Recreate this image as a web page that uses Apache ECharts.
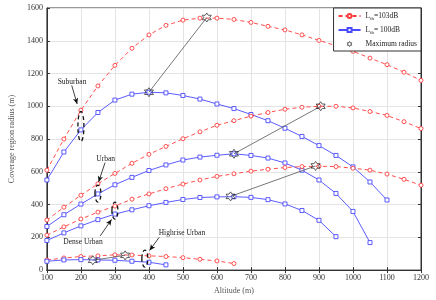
<!DOCTYPE html>
<html><head><meta charset="utf-8">
<script src="https://cdn.jsdelivr.net/npm/echarts@6/dist/echarts.min.js"></script>
<style>html,body{margin:0;padding:0;background:#fff}#c{width:436px;height:300px}</style>
</head><body><div id="c"></div>
<script>
const altitudes = [100,150,200,250,300,350,400,450,500,550,600,650,700,750,800,850,900,950,1000,1050,1100,1150,1200];
const suburban103 = [610,800,976,1124,1250,1354,1436,1494,1526,1538,1538,1530,1512,1488,1466,1436,1402,1370,1336,1294,1254,1208,1158];
const suburban100 = [550,721,856,962,1038,1074,1086,1082,1066,1044,1014,986,950,912,866,816,760,700,630,538,428];
const urban103 = [306,384,457,527,590,652,707,755,802,844,884,912,940,962,982,994,1000,1000,990,968,944,906,864];
const urban100 = [266,338,403,465,521,566,608,642,672,690,701,710,700,684,654,610,550,468,358,168];
const dense103 = [213,264,312,354,391,433,465,497,525,550,572,588,604,616,626,632,634,632,622,610,586,554,518];
const dense100 = [181,227,270,308,342,368,393,413,431,443,447,448,444,430,404,364,304,204];
const highrise103 = [62,74,83,87,93,92,87,83,76,66,56,40];
const highrise100 = [54,62,64,62,60,54,48,32];
// maximum radius points: pairs [100dB, 103dB]
const maxPairs = [
  [[400,1086],[570,1542]],
  [[650,710],[905,1000]],
  [[640,450],[890,636]],
  [[235,60],[330,90]]
];
const envLabels = ['Suburban','Urban','Dense Urban','Highrise Urban'];
const labelPos = [[174,1151],[273,680],[206,170],[497,224]];
const arrowFrom = [[173,1127],[271,656],[257,209],[430,200]];
const arrowTo = [[189,1014],[252,538],[290,309],[402,120]];
const ellipseCenters = [[200,877],[250,467],[300,363],[388,70]];

const RED = '#ff3b3b', BLUE = '#4a4aff', FONT = 'Liberation Serif';
const starPath = 'path://M0,-10 L2.9,-5 L8.66,-5 L5.8,0 L8.66,5 L2.9,5 L0,10 L-2.9,5 L-8.66,5 L-5.8,0 L-8.66,-5 L-2.9,-5 Z';
const zip = v => v.map((y,i)=>[altitudes[i],y]);
function redSeries(d){return {name:'L103',type:'line',data:zip(d),symbol:'circle',symbolSize:4,showSymbol:true,
  lineStyle:{color:RED,width:0.9,type:[4,3]},itemStyle:{color:'#fff',borderColor:RED,borderWidth:0.9},z:3,animation:false};}
function blueSeries(d){return {name:'L100',type:'line',data:zip(d),symbol:'rect',symbolSize:4,
  lineStyle:{color:BLUE,width:0.9},itemStyle:{color:'#fff',borderColor:BLUE,borderWidth:0.9},z:3,animation:false};}
const starData = []; maxPairs.forEach(p=>{starData.push(p[0]);starData.push(p[1]);});
const lineData = maxPairs.map(p=>[{coord:p[0]},{coord:p[1]}]);
const arrowData = arrowFrom.map((f,i)=>[{coord:f},{coord:arrowTo[i]}]);

const chart = echarts.init(document.getElementById('c'));
const axisLbl = {fontFamily:FONT,fontSize:8,color:'#333',formatter:v=>String(v)};
chart.setOption({
  animation:false,
  grid:{left:29,right:15,top:8,bottom:23.3,show:true,borderColor:'#333',borderWidth:1},
  xAxis:[{type:'value',min:100,max:1200,interval:100,name:'Altitude (m)',nameLocation:'middle',nameGap:14,
    nameTextStyle:{fontFamily:FONT,fontSize:8,color:'#555'},
    axisLine:{lineStyle:{color:'#333'}},axisTick:{inside:true,length:3,lineStyle:{color:'#333'}},
    axisLabel:Object.assign({margin:4},axisLbl),splitLine:{lineStyle:{color:'#e4e4e4'}}},
    {type:'value',position:'top',min:100,max:1200,interval:100,axisLine:{lineStyle:{color:'#333'}},
    axisTick:{inside:true,length:3,lineStyle:{color:'#333'}},axisLabel:{show:false},splitLine:{show:false}}],
  yAxis:[{type:'value',min:0,max:1600,interval:200,name:'Coverage region radius (m)',nameLocation:'middle',nameGap:20,
    nameTextStyle:{fontFamily:FONT,fontSize:8,color:'#555'},
    axisLine:{show:true,lineStyle:{color:'#333'}},axisTick:{show:true,inside:true,length:3,lineStyle:{color:'#333'}},
    axisLabel:Object.assign({margin:4},axisLbl),splitLine:{lineStyle:{color:'#e4e4e4'}}},
    {type:'value',position:'right',min:0,max:1600,interval:200,axisLine:{show:true,lineStyle:{color:'#333'}},
    axisTick:{show:true,inside:true,length:3,lineStyle:{color:'#333'}},axisLabel:{show:false},splitLine:{show:false}}],
  legend:{right:15,top:8,orient:'vertical',itemWidth:22,itemHeight:5,itemGap:5,padding:[4,4,3,4],
    backgroundColor:'#fff',borderColor:'#333',borderWidth:1,
    data:['L103','L100',{name:'Maximum radius',itemStyle:{color:'#fff',borderColor:'#222',borderWidth:0.9}}],
    formatter:n=> n==='L103'?'{a|L}{s|th}{a|=103dB}': n==='L100'?'{a|L}{s|th}{a|= 100dB}':'{a|Maximum radius}',
    textStyle:{fontFamily:FONT,fontSize:7.5,color:'#222',
      rich:{a:{fontFamily:FONT,fontSize:7.5,color:'#222'},s:{fontFamily:FONT,fontSize:5,color:'#222',padding:[5,0,0,0]}}}},
  series:[
    redSeries(suburban103), blueSeries(suburban100),
    redSeries(urban103), blueSeries(urban100),
    redSeries(dense103), blueSeries(dense100),
    redSeries(highrise103), blueSeries(highrise100),
    {name:'Maximum radius',type:'scatter',data:starData,symbol:starPath,symbolSize:9,z:5,
     itemStyle:{color:'rgba(255,255,255,0)',borderColor:'#222',borderWidth:0.9},
     markLine:{silent:true,symbol:['none','none'],lineStyle:{color:'#555',width:0.8,type:'solid'},label:{show:false},data:lineData}},
    {name:'arrows',type:'line',data:[],
     markLine:{silent:true,symbol:['none','arrow'],symbolSize:[4,6],lineStyle:{color:'#111',width:0.8,type:'solid'},label:{show:false},data:arrowData}}
  ]
});
const g = [];
envLabels.forEach((t,i)=>{
  const p = chart.convertToPixel({xAxisIndex:0,yAxisIndex:0},labelPos[i]);
  g.push({type:'text',x:p[0],y:p[1],style:{text:t,fontFamily:FONT,fontSize:7.5,fill:'#222',align:'center',verticalAlign:'middle'},z:10});
});
ellipseCenters.forEach((c,i)=>{
  const p = chart.convertToPixel({xAxisIndex:0,yAxisIndex:0},c);
  const ry = i===0?15:8.5;
  g.push({type:'ellipse',shape:{cx:p[0],cy:p[1],rx:3,ry:ry},style:{fill:'none',stroke:'#111',lineWidth:1.3,lineDash:[4,3]},z:10});
});
chart.setOption({graphic:g});
</script></body></html>
